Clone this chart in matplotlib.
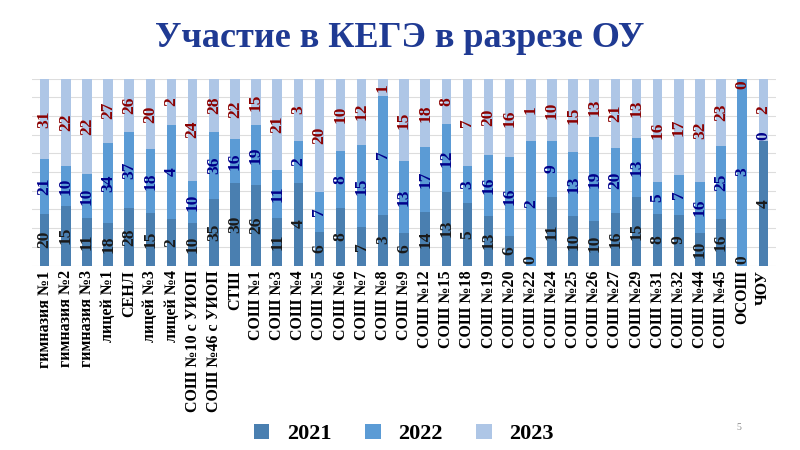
import matplotlib
matplotlib.use("Agg")
import matplotlib.pyplot as plt
import numpy as np

cats = ["гимназия №1","гимназия №2","гимназия №3","лицей №1","СЕНЛ","лицей №3","лицей №4",
        "СОШ №10 с УИОП","СОШ №46 с УИОП","СТШ","СОШ №1","СОШ №3","СОШ №4","СОШ №5","СОШ №6",
        "СОШ №7","СОШ №8","СОШ №9","СОШ №12","СОШ №15","СОШ №18","СОШ №19","СОШ №20","СОШ №22",
        "СОШ №24","СОШ №25","СОШ №26","СОШ №27","СОШ №29","СОШ №31","СОШ №32","СОШ №44","СОШ №45",
        "ОСОШ","ЧОУ"]
v2021 = [20,15,11,18,28,15,2,10,35,30,26,11,4,6,8,7,3,6,14,13,5,13,6,0,11,10,10,16,15,8,9,10,16,0,4]
v2022 = [21,10,10,34,37,18,4,10,36,16,19,11,2,7,8,15,7,13,17,12,3,16,16,2,9,13,19,20,13,5,7,16,25,3,0]
v2023 = [31,22,22,27,26,20,2,24,28,22,15,21,3,20,10,12,1,15,18,8,7,20,16,1,10,15,13,21,13,16,17,32,23,0,2]

plt.rcParams['font.family'] = ['Liberation Serif', 'DejaVu Serif']
fig = plt.figure(figsize=(8, 4.5), dpi=100)
ax = fig.add_axes([0.04, 0.41, 0.93, 0.415])

a = np.array([v2021, v2022, v2023], dtype=float)
tot = a.sum(axis=0)
p = a / tot
x = np.arange(len(cats))
cols = ['#4a7fb0', '#5b9bd5', '#aec6e6']
tcols = ['#1a1a1a', '#00008b', '#8b0000']
names = ['2021', '2022', '2023']
bottom = np.zeros(len(cats))
for i in range(3):
    ax.bar(x, p[i], 0.45, bottom=bottom, color=cols[i], label=names[i], edgecolor='none')
    for j in range(len(cats)):
        y = bottom[j] + p[i][j] / 2
        if p[i][j] == 0:
            y = bottom[j] + (0.03 if i < 2 else 0)
            if i == 2:
                y = min(bottom[j] + 0.0, 0.97)
        ax.text(x[j], y, str(int(a[i][j])), rotation=90, ha='center', va='center',
                fontsize=12.5, fontweight='bold', color=tcols[i])
    bottom += p[i]

ax.set_xlim(-0.6, len(cats) - 0.4)
ax.set_ylim(0, 1.0)
ax.set_yticks(np.arange(0, 1.01, 0.1))
ax.set_yticklabels([])
ax.tick_params(axis='y', length=0)
ax.tick_params(axis='x', length=0)
ax.grid(axis='y', color='#dddddd', lw=0.8)
ax.set_axisbelow(True)
for s in ax.spines.values():
    s.set_visible(False)
ax.set_xticks(x)
ax.set_xticklabels(cats, rotation=90, fontsize=11.5, fontweight='bold')

fig.text(0.5, 0.915, "Участие в КЕГЭ в разрезе ОУ", ha='center', va='center',
         fontsize=26, fontweight='bold', color='#1f3a93')
ax.legend(loc='upper center', bbox_to_anchor=(0.5, -0.74), ncol=3, frameon=False,
          prop={'size': 16, 'weight': 'bold'}, handlelength=0.7, handleheight=0.7, columnspacing=1.5)
fig.text(0.92, 0.045, "5", fontsize=7, color='#888888')
fig.savefig("out.png", dpi=100)
